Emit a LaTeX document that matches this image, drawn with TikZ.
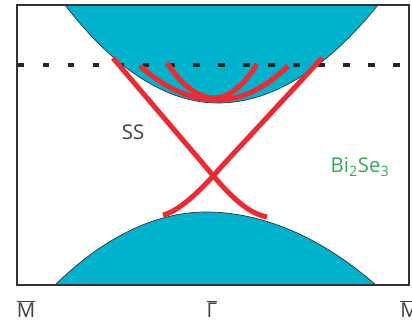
\documentclass[tikz,border=0pt]{standalone}
\usepackage{xcolor}
\usepackage{fontspec}
\setmainfont{Open Sans}

\definecolor{bandcyan}{RGB}{0,178,204}
\definecolor{ssred}{RGB}{236,42,51}
\definecolor{bigreen}{RGB}{52,170,84}
\definecolor{ssgray}{RGB}{64,64,64}

\begin{document}
\begin{tikzpicture}[x=0.025cm, y=-0.025cm,
        every node/.style={font=\fontsize{14.5}{16}\selectfont, inner sep=0pt},
        band/.style={fill=bandcyan},
        bandedge/.style={draw=black!80, line width=0.5pt},
        ssline/.style={draw=ssred, line width=3.6pt}]
    \useasboundingbox (0,0) rectangle (412,324);
    % bulk bands
    \fill[band] (65,5) parabola bend (218,103) (378,5) -- cycle;
    \draw[bandedge] (65,5) parabola bend (218,103) (378,5);
    \fill[band] (55,285) parabola bend (206,212) (376,285) -- cycle;
    \draw[bandedge] (55,285) parabola bend (206,212) (376,285);
    % Fermi level
    \draw[black!85, line width=2.2pt, dash pattern=on 4.5pt off 13.3pt] (18,65) -- (410,65);
    % surface states
    \draw[ssline] (140,66) parabola bend (217,100) (288,66);
    \draw[ssline] (167,63) parabola bend (214,98) (257,64);
    \draw[ssline] (113,58) -- (205,166) .. controls (225,190) and (245,213) .. (267,217);
    \draw[ssline] (322,58) -- (222,166) .. controls (203,188) and (180,211) .. (163,215);
    % frame
    \draw[black!80, line width=0.8pt] (17,5) rectangle (409,285);
    % labels
    \node[text=ssgray] (ss) at (133,132) {SS};
    \node[text=bigreen] (mat) at (360,167) {Bi\textsubscript{2}Se\textsubscript{3}};
    \node[text=ssgray] (mleft) at (26,309) {$\overline{\mbox{M}}$};
    \node[text=ssgray] (gamma) at (212,309) {$\overline{\mbox{Γ}}$};
    \node[text=ssgray, anchor=west] (mright) at (400,309) {$\overline{\mbox{M}}$};
\end{tikzpicture}
\end{document}
